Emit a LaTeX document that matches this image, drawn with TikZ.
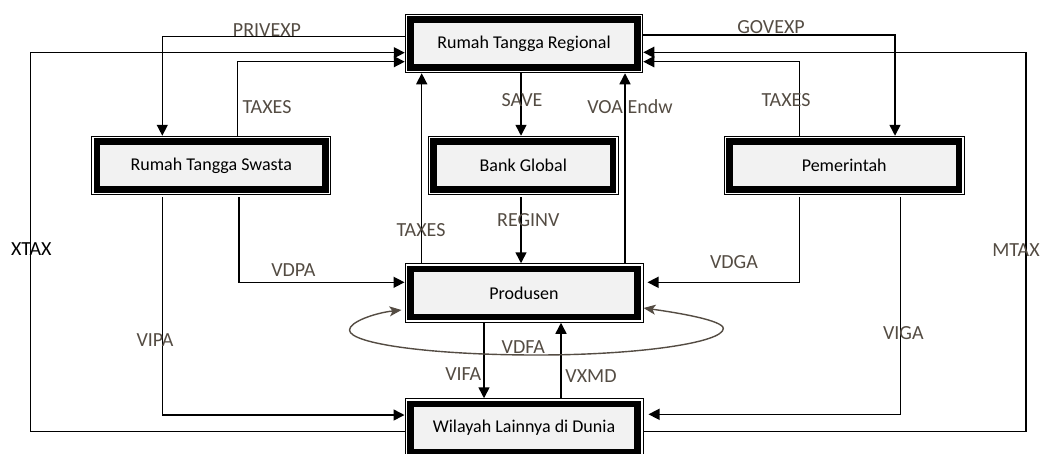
\documentclass[tikz,border=0pt]{standalone}
\usepackage{fontspec}
\setmainfont{Carlito}
\usetikzlibrary{arrows.meta,calc}

\definecolor{boxgray}{HTML}{F2F2F2}
\definecolor{labelc}{RGB}{84,76,67}

\tikzset{
  sysbox/.style={draw=black, line width=1pt, minimum width=#1, minimum height=58.5pt,
    inner sep=0pt, font=\fontsize{18}{20}\selectfont, text=black,
    path picture={\draw[line width=6.5pt, fill=boxgray]
      ([xshift=5.4pt,yshift=-5.4pt]path picture bounding box.north west) rectangle
      ([xshift=-5.4pt,yshift=5.4pt]path picture bounding box.south east);}},
  flow/.style={draw=black, line width=1.5pt, -{Triangle[length=11pt,width=11pt]}},
  loopflow/.style={draw=labelc, line width=1.4pt,
    {Stealth[length=12pt,width=10pt,inset=3pt]}-{Stealth[length=12pt,width=10pt,inset=3pt]}},
  lbl/.style={font=\fontsize{20}{24}\selectfont, text=labelc, inner sep=0pt, anchor=base},
}

\begin{document}
\begin{tikzpicture}[x=1pt, y=-1pt]
\useasboundingbox (0,0) rectangle (1040,453);
\clip (0,0) rectangle (1040,453);

% sectors
\node[sysbox=237.5pt] (RTR) at (524,43.5)  {Rumah Tangga Regional};
\node[sysbox=239pt]   (RTS) at (211.3,165.5) {Rumah Tangga Swasta};
\node[sysbox=190pt]   (BG)  at (523.3,165.5) {Bank Global};
\node[sysbox=240pt]   (PEM) at (844.2,165.5) {Pemerintah};
\node[sysbox=238pt]   (PRO) at (524,293)  {Produsen};
\node[sysbox=238pt]   (WIL) at (524,428)  {Wilayah Lainnya di Dunia};

% turning points of the outer loops
\coordinate (xl) at (30.7,240);
\coordinate (xr) at (1026,240);

% regional household flows
\draw[flow] ([yshift=6.8pt]RTR.west) -| ([xshift=-49pt]RTS.north);
\draw[flow] ([yshift=-3.7pt]WIL.west) -| (xl) |- ([yshift=-9.2pt]RTR.west);
\draw[flow] ([xshift=26pt]RTS.north) |- ([yshift=-18.2pt]RTR.west);
\draw[flow] ([yshift=8.5pt]RTR.east) -| ([xshift=50.8pt]PEM.north);
\draw[flow] ([yshift=-3.7pt]WIL.east) -| (xr) |- ([yshift=-8.8pt]RTR.east);
\draw[flow] ([xshift=-44.9pt]PEM.north) |- ([yshift=-18.2pt]RTR.east);

% private household spending
\draw[flow, shorten <=2pt] ([xshift=-48.6pt]RTS.south) |- ([yshift=13pt]WIL.west);
\draw[flow, shorten <=2pt] ([xshift=27.7pt]RTS.south) |- ([yshift=10.7pt]PRO.west);

% government spending
\draw[flow, shorten <=2pt, shorten >=4pt] ([xshift=-44.9pt]PEM.south) |- ([yshift=10.7pt]PRO.east);
\draw[flow, shorten <=2pt, shorten >=5pt] ([xshift=56.5pt]PEM.south) |- ([yshift=13.7pt]WIL.east);

% central column
\draw[flow] ([xshift=-102.3pt]PRO.north) -- ([xshift=-102.3pt]RTR.south);
\draw[flow] ([xshift=-3pt]RTR.south) -- ([xshift=-3pt]RTR.south |- BG.north);
\draw[flow] ([xshift=101pt]PRO.north) -- ([xshift=101pt]RTR.south);
\draw[flow, shorten <=2pt] ([xshift=-3pt]PRO.north |- BG.south) -- ([xshift=-3pt]PRO.north);
\draw[flow] ([xshift=-40pt]PRO.south) -- ([xshift=-40pt]WIL.north);
\draw[flow] ([xshift=37pt]WIL.north) -- ([xshift=37pt]PRO.south);

% domestic intermediate inputs loop
\coordinate (vl) at (349.5,330);
\coordinate (vb) at (536.5,355);
\coordinate (vr) at (723.3,328.5);
\draw[loopflow] ([shift={(-3pt,-17pt)}]PRO.west)
  .. controls +(-27,3) and +(0,-8) .. (vl)
  .. controls +(0,14) and +(-103,0) .. (vb)
  .. controls +(103,0) and +(0,14) .. (vr)
  .. controls +(0,-8) and +(36,5) .. ([shift={(0pt,-15pt)}]PRO.east);

% flow labels
\node[lbl] (lPRIV) at (267,36.7)   {PRIVEXP};
\node[lbl, text=black] (lXTAX) at (31.3,255) {XTAX};
\node[lbl] (lTAX1) at (267,113.3)  {TAXES};
\node[lbl] (lVDPA) at (293.3,276.7) {VDPA};
\node[lbl] (lVIPA) at (155,346.7)  {VIPA};
\node[lbl] (lTAX2) at (421,236.7)  {TAXES};
\node[lbl] (lSAVE) at (522,106.7)  {SAVE};
\node[lbl] (lVOA)  at (630,113.3)  {VOA Endw};
\node[lbl] (lREG)  at (528.3,226.7) {REGINV};
\node[lbl] (lGOV)  at (771,33.3)   {GOVEXP};
\node[lbl] (lTAX3) at (786,106)    {TAXES};
\node[lbl] (lMTAX) at (1016,256.7) {MTAX};
\node[lbl] (lVDGA) at (734,268.3)  {VDGA};
\node[lbl] (lVIGA) at (903.3,339.3) {VIGA};
\node[lbl] (lVIFA) at (463.3,380)  {VIFA};
\node[lbl] (lVXMD) at (591,382.7)  {VXMD};
\node[lbl] (lVDFA) at (523.3,353.3) {VDFA};
\end{tikzpicture}
\end{document}
